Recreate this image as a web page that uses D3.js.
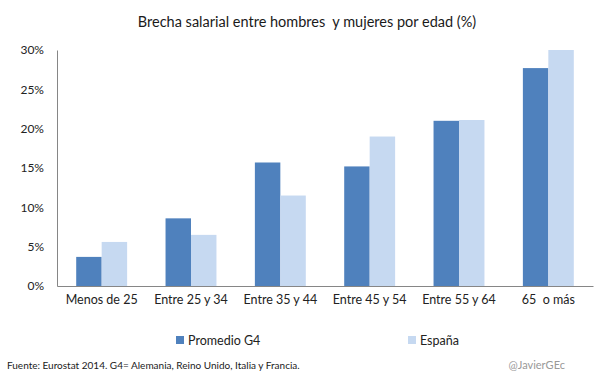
<!DOCTYPE html>
<html><head><meta charset="utf-8">
<script src="https://cdn.jsdelivr.net/npm/d3@7"></script>
<style>body{margin:0;background:#fff}svg{display:block}text{font-family:Lato,"Open Sans",sans-serif;white-space:pre}</style>
</head><body>
<svg id="c" width="605" height="378"></svg>
<script>
const categories = ["Menos de 25","Entre 25 y 34","Entre 35 y 44","Entre 45 y 54","Entre 55 y 64","65  o más"];
const seriesNames = ["Promedio G4","España"];
const promedioG4 = [3.7, 8.6, 15.7, 15.2, 21.0, 27.7];
const espana = [5.6, 6.5, 11.5, 19.0, 21.1, 30.0];
const yTicks = [0,5,10,15,20,25,30];
const colors = ["#4f81bd","#c6d9f1"];

const svg = d3.select("#c");
const x = d3.scaleBand().domain(categories).range([57, 593]);
const y = d3.scaleLinear().domain([0, 30]).range([286, 50]);
const barW = x.bandwidth() * 0.285;
const x1 = d3.scaleBand().domain(seriesNames).range([-barW, barW]);

svg.append("text").attr("x", 307).attr("y", 27).attr("text-anchor","middle")
  .attr("font-size", 14.5).attr("fill","#1a1a1a").text("Brecha salarial entre hombres  y mujeres por edad (%)");

const yAxis = svg.append("g").attr("transform","translate(57,0)")
  .call(d3.axisLeft(y).tickValues(yTicks).tickSize(0).tickPadding(13).tickFormat(d => d + "%"));
yAxis.select(".domain").attr("stroke","#868686");
yAxis.selectAll("text").attr("font-size",12).attr("fill","#222").attr("font-family","Lato, sans-serif");

const xAxis = svg.append("g").attr("transform","translate(0,286)")
  .call(d3.axisBottom(x).tickSize(0).tickPadding(9));
xAxis.select(".domain").attr("stroke","#868686");
xAxis.selectAll("text").attr("font-size",12.5).attr("fill","#222").attr("font-family","Lato, sans-serif");

const data = [promedioG4, espana];
seriesNames.forEach((s, si) => {
  svg.append("g").selectAll("rect").data(categories).join("rect")
    .attr("x", c => x(c) + x.bandwidth()/2 + x1(s))
    .attr("width", x1.bandwidth())
    .attr("y", (c,i) => y(data[si][i]))
    .attr("height", (c,i) => y(0) - y(data[si][i]))
    .attr("fill", colors[si]);
});

const legX = [176, 408];
seriesNames.forEach((s, si) => {
  const g = svg.append("g").attr("transform", `translate(${legX[si]},336)`);
  g.append("rect").attr("width",8).attr("height",8).attr("fill",colors[si]);
  g.append("text").attr("x",12).attr("y",8.5).attr("font-size",12.5).attr("fill","#222").text(s);
});

svg.append("text").attr("x",7).attr("y",369).attr("font-size",10).attr("fill","#1a1a1a")
  .text("Fuente: Eurostat 2014. G4= Alemania, Reino Unido, Italia y Francia.");
svg.append("text").attr("x",565).attr("y",369).attr("text-anchor","end").attr("font-size",11).attr("fill","#999")
  .text("@JavierGEc");
</script>
</body></html>
